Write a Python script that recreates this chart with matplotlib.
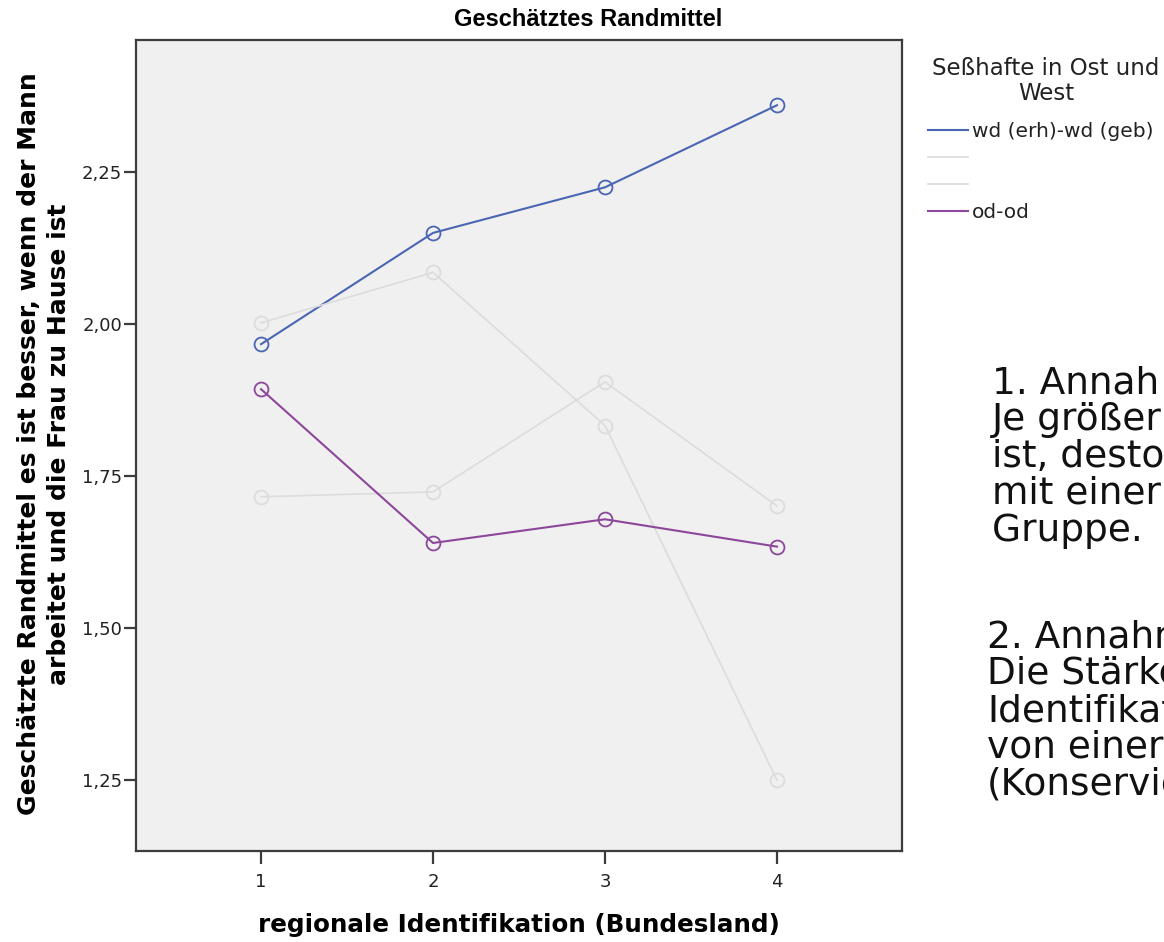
import matplotlib.pyplot as plt
from matplotlib.lines import Line2D

# Daten
regionen = [1, 2, 3, 4]
wd_wd = [1.966, 2.149, 2.224, 2.359]   # wd (erh)-wd (geb)
grau_a = [2.001, 2.084, 1.832, 1.249]  # ausgeblendet
grau_b = [1.715, 1.723, 1.904, 1.700]  # ausgeblendet
od_od = [1.892, 1.639, 1.678, 1.633]

y_ticks = [1.25, 1.50, 1.75, 2.00, 2.25]
y_tick_labels = ['1,25', '1,50', '1,75', '2,00', '2,25']

legend_title = 'Seßhafte in Ost und\nWest'
legend_labels = ['wd (erh)-wd (geb)', '', '', 'od-od']

notiz_1 = ['1. Annah', 'Je größer', 'ist, desto', 'mit einer', 'Gruppe. ']
notiz_2 = ['2. Annahm', 'Die Stärke', 'Identifikat', 'von einer', '(Konservie']

blau = '#4a66b3'
lila = '#8c479a'
grau = '#dcdcdc'
achse = '#3c3c3c'

fig = plt.figure(figsize=(11.64, 9.42), dpi=100)
ax = fig.add_axes([136 / 1164, 1 - 851 / 942, 766 / 1164, 811 / 942])
ax.set_facecolor('#f0f0f0')

serien = [(wd_wd, blau, 1.5), (grau_a, grau, 1.2), (grau_b, grau, 1.2), (od_od, lila, 1.5)]
for werte, farbe, lw in serien:
    ax.plot(regionen, werte, color=farbe, linewidth=lw, marker='o', markersize=10,
            markerfacecolor='none', markeredgecolor=farbe, markeredgewidth=1.3)

ax.set_xlim(0.273, 4.727)
ax.set_ylim(1.1324, 2.4663)
ax.set_xticks(regionen)
ax.set_xticklabels([str(r) for r in regionen])
ax.set_yticks(y_ticks)
ax.set_yticklabels(y_tick_labels)

for s in ax.spines.values():
    s.set_color(achse)
    s.set_linewidth(1.6)
ax.tick_params(axis='both', length=9, width=1.6, color=achse, labelsize=13, labelcolor='#222222')
ax.tick_params(axis='y', pad=1)
ax.tick_params(axis='x', pad=7)

fig.text(588 / 1164, 1 - 20 / 942, 'Geschätztes Randmittel', ha='center', va='center',
         fontsize=17, fontweight='bold', family='Liberation Sans')
fig.text(519 / 1164, 1 - 925 / 942, 'regionale Identifikation (Bundesland)', ha='center', va='center',
         fontsize=17.7, fontweight='bold')
fig.text(44 / 1164, 1 - 444 / 942,
         'Geschätzte Randmittel es ist besser, wenn der Mann\narbeitet und die Frau zu Hause ist',
         ha='center', va='center', rotation=90, fontsize=18, fontweight='bold', linespacing=1.3)

# Legende: Titel separat, damit die Abstände passen
fig.text(1046 / 1164, 1 - 81 / 942, legend_title, ha='center', va='center',
         fontsize=16.5, multialignment='center', linespacing=1.15, color='#222222')
handles = [Line2D([0], [0], color=f, linewidth=lw) for _, f, lw in serien]
leg = fig.legend(handles, legend_labels, loc='upper left',
                 bbox_to_anchor=(928 / 1164, 1 - 122 / 942), frameon=False, fontsize=14.5,
                 handlelength=2.0, handletextpad=0.2, labelspacing=0.4,
                 borderpad=0, borderaxespad=0)
for t in leg.get_texts():
    t.set_color('#222222')

for i, zeile in enumerate(notiz_1):
    fig.text(992 / 1164, 1 - (393 + 37 * i) / 942, zeile, ha='left', va='baseline',
             fontsize=27, color='#111111')
for i, zeile in enumerate(notiz_2):
    fig.text(987 / 1164, 1 - (647 + 37 * i) / 942, zeile, ha='left', va='baseline',
             fontsize=27, color='#111111')

fig.savefig('out.png', dpi=100, facecolor='white')
